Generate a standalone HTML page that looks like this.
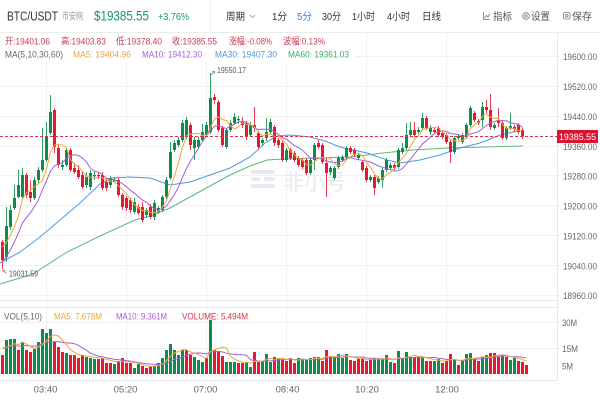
<!DOCTYPE html>
<html><head><meta charset="utf-8">
<style>
html,body{margin:0;padding:0;background:#fff;}
svg{display:block;font-family:"Liberation Sans","Noto Sans CJK SC",sans-serif;}
</style></head><body>
<svg id="s" width="600" height="400" viewBox="0 0 600 400" xmlns="http://www.w3.org/2000/svg">
<rect width="600" height="400" fill="#fff"/>
<!-- header -->
<line x1="0" y1="32.5" x2="600" y2="32.5" stroke="#ececec"/>
<line x1="210.5" y1="0" x2="210.5" y2="32" stroke="#ececec"/>
<text x="7" y="20.5" font-size="12.5" fill="#333" textLength="51" lengthAdjust="spacingAndGlyphs">BTC/USDT</text>
<text x="62" y="19.5" font-size="9.5" fill="#999" textLength="21" lengthAdjust="spacingAndGlyphs">币安网</text>
<text x="94" y="20.5" font-size="14" fill="#119a5c" textLength="55" lengthAdjust="spacingAndGlyphs">$19385.55</text>
<text x="158" y="20" font-size="10.5" fill="#119a5c" textLength="31" lengthAdjust="spacingAndGlyphs">+3.76%</text>
<g font-size="10" fill="#333">
<text x="226" y="20" textLength="19" lengthAdjust="spacingAndGlyphs">周期</text>
<text x="272" y="20" textLength="15" lengthAdjust="spacingAndGlyphs">1分</text>
<text x="297" y="20" fill="#3b7fd8" textLength="15" lengthAdjust="spacingAndGlyphs">5分</text>
<text x="322" y="20" textLength="19" lengthAdjust="spacingAndGlyphs">30分</text>
<text x="352" y="20" textLength="23" lengthAdjust="spacingAndGlyphs">1小时</text>
<text x="387" y="20" textLength="23" lengthAdjust="spacingAndGlyphs">4小时</text>
<text x="422" y="20" textLength="19" lengthAdjust="spacingAndGlyphs">日线</text>
<text x="493" y="20" fill="#555" textLength="19" lengthAdjust="spacingAndGlyphs">指标</text>
<text x="531" y="20" fill="#555" textLength="19" lengthAdjust="spacingAndGlyphs">设置</text>
<text x="572" y="20" fill="#555" textLength="20" lengthAdjust="spacingAndGlyphs">保存</text>
</g>
<path d="M250 15 L252.5 17.5 L255 15" fill="none" stroke="#aaa" stroke-width="0.9"/>
<path d="M483.5 12 V19.5 H490 M484.5 18 L486.5 15.5 L488 17 L490 14" fill="none" stroke="#777" stroke-width="0.8"/>
<circle cx="526" cy="16" r="3.3" fill="none" stroke="#777" stroke-width="0.8"/>
<circle cx="526" cy="16" r="1.2" fill="none" stroke="#777" stroke-width="0.8"/>
<rect x="563.5" y="12.5" width="6.5" height="6.5" rx="1.5" fill="none" stroke="#777" stroke-width="0.8"/>
<circle cx="566.75" cy="15.75" r="1.3" fill="none" stroke="#777" stroke-width="0.8"/>

<!-- grid -->
<g stroke="#f0f0f0" stroke-width="1">
<line x1="0" y1="56.5" x2="560" y2="56.5"/>
<line x1="0" y1="86.5" x2="560" y2="86.5"/>
<line x1="0" y1="116.5" x2="560" y2="116.5"/>
<line x1="0" y1="146.5" x2="560" y2="146.5"/>
<line x1="0" y1="175.5" x2="560" y2="175.5"/>
<line x1="0" y1="205.5" x2="560" y2="205.5"/>
<line x1="0" y1="235.5" x2="560" y2="235.5"/>
<line x1="0" y1="265.5" x2="560" y2="265.5"/>
<line x1="0" y1="295.5" x2="560" y2="295.5"/>
<line x1="0" y1="322.5" x2="560" y2="322.5"/>
<line x1="0" y1="348.5" x2="560" y2="348.5"/>
<line x1="46.5" y1="33" x2="46.5" y2="380"/>
<line x1="126.5" y1="33" x2="126.5" y2="380"/>
<line x1="206.5" y1="33" x2="206.5" y2="380"/>
<line x1="286.5" y1="33" x2="286.5" y2="380"/>
<line x1="366.5" y1="33" x2="366.5" y2="380"/>
<line x1="446.5" y1="33" x2="446.5" y2="380"/>
</g>
<g stroke="#e8e8e8" stroke-width="1">
<line x1="0" y1="300.5" x2="557" y2="300.5"/>
<line x1="0" y1="307.5" x2="557" y2="307.5"/>
<line x1="0" y1="380.5" x2="557" y2="380.5"/>
<line x1="557.5" y1="33" x2="557.5" y2="380"/>
</g>
<rect x="0" y="33" width="356" height="29" fill="#fff"/>

<!-- watermark -->
<g fill="#e7ebf1">
<rect x="251" y="170" width="24" height="4" rx="2"/>
<rect x="251" y="177" width="9" height="4" rx="2"/>
<rect x="264" y="177" width="11" height="4" rx="2"/>
<rect x="251" y="184" width="24" height="4" rx="2"/>
<text x="283" y="190" font-size="22" textLength="63" lengthAdjust="spacingAndGlyphs">非小号</text>
</g>

<!-- info rows -->
<g font-size="9.5" fill="#cc3b52">
<text x="5" y="44.5" textLength="45" lengthAdjust="spacingAndGlyphs">开:19401.06</text>
<text x="61" y="44.5" textLength="45" lengthAdjust="spacingAndGlyphs">高:19403.83</text>
<text x="116" y="44.5" textLength="46" lengthAdjust="spacingAndGlyphs">低:19378.40</text>
<text x="172" y="44.5" textLength="45" lengthAdjust="spacingAndGlyphs">收:19385.55</text>
<text x="229" y="44.5" textLength="43" lengthAdjust="spacingAndGlyphs">涨幅:-0.08%</text>
<text x="283" y="44.5" textLength="42" lengthAdjust="spacingAndGlyphs">波幅:0.13%</text>
</g>
<g font-size="9.5">
<text x="5" y="57.5" fill="#666" textLength="58" lengthAdjust="spacingAndGlyphs">MA(5,10,30,60)</text>
<text x="73" y="57.5" fill="#f2a33a" textLength="58" lengthAdjust="spacingAndGlyphs">MA5: 19404.96</text>
<text x="142" y="57.5" fill="#a35fd6" textLength="60" lengthAdjust="spacingAndGlyphs">MA10: 19412.30</text>
<text x="215" y="57.5" fill="#4a97e0" textLength="62" lengthAdjust="spacingAndGlyphs">MA30: 19407.30</text>
<text x="288" y="57.5" fill="#3ea96b" textLength="61" lengthAdjust="spacingAndGlyphs">MA60: 19361.03</text>
</g>

<g id="dyn"></g>

<!-- price axis labels -->
<g font-size="9.5" fill="#666">
<text x="563" y="60" textLength="34" lengthAdjust="spacingAndGlyphs">19600.00</text>
<text x="563" y="90" textLength="34" lengthAdjust="spacingAndGlyphs">19520.00</text>
<text x="563" y="120" textLength="34" lengthAdjust="spacingAndGlyphs">19440.00</text>
<text x="563" y="150" textLength="34" lengthAdjust="spacingAndGlyphs">19360.00</text>
<text x="563" y="179.5" textLength="34" lengthAdjust="spacingAndGlyphs">19280.00</text>
<text x="563" y="209.5" textLength="34" lengthAdjust="spacingAndGlyphs">19200.00</text>
<text x="563" y="239.5" textLength="34" lengthAdjust="spacingAndGlyphs">19120.00</text>
<text x="563" y="269.5" textLength="34" lengthAdjust="spacingAndGlyphs">19040.00</text>
<text x="563" y="299" textLength="34" lengthAdjust="spacingAndGlyphs">18960.00</text>
<text x="562" y="326" textLength="15" lengthAdjust="spacingAndGlyphs">30M</text>
<text x="562" y="352" textLength="16" lengthAdjust="spacingAndGlyphs">15M</text>
<text x="562" y="369.5" textLength="11" lengthAdjust="spacingAndGlyphs">5M</text>
</g>
<!-- time labels -->
<g font-size="9.5" fill="#666" text-anchor="middle">
<text x="45.5" y="392.5">03:40</text>
<text x="125.5" y="392.5">05:20</text>
<text x="205.5" y="392.5">07:00</text>
<text x="287.5" y="392.5">08:40</text>
<text x="367" y="392.5">10:20</text>
<text x="447" y="392.5">12:00</text>
</g>

<!-- current price -->
<line x1="0" y1="136.5" x2="557" y2="136.5" stroke="#d6344b" stroke-width="1" stroke-dasharray="3,2"/>
<rect x="557" y="130" width="41" height="13" fill="#d9132e"/>
<text x="577.5" y="140" font-size="9.5" fill="#fff" text-anchor="middle" textLength="37" lengthAdjust="spacingAndGlyphs">19385.55</text>

<!-- max/min labels -->
<path d="M211 75 L214.5 71.5 M212.2 71.5 H214.5 V73.8" fill="none" stroke="#777" stroke-width="0.7"/>
<text x="217" y="73" font-size="8.5" fill="#555" textLength="29" lengthAdjust="spacingAndGlyphs">19550.17</text>
<path d="M3 270 L6.5 273.5 M3 272.3 V270 H5.3" fill="none" stroke="#777" stroke-width="0.7"/>
<text x="9" y="276.5" font-size="8.5" fill="#555" textLength="29" lengthAdjust="spacingAndGlyphs">19031.59</text>

<!-- volume labels -->
<g font-size="9.5">
<text x="4" y="319.5" fill="#666" textLength="38" lengthAdjust="spacingAndGlyphs">VOL(5,10)</text>
<text x="54" y="319.5" fill="#f2a33a" textLength="48" lengthAdjust="spacingAndGlyphs">MA5: 7.678M</text>
<text x="116" y="319.5" fill="#a35fd6" textLength="51" lengthAdjust="spacingAndGlyphs">MA10: 9.361M</text>
<text x="182" y="319.5" fill="#d4344c" textLength="66" lengthAdjust="spacingAndGlyphs">VOLUME: 5.494M</text>
</g>
</svg>
<script>
(function(){
var G="#0d8c4c",R="#e51a31";
var C=[[242,260,240,269],[257,226,207,262],[227,210,205,230],[208,198,185,210],[197,185,170,198],[197,175,168,200],[175,195,173,198],[192,198,180,202],[198,180,177,200],[180,170,167,183],
[170,160,128,172],[160,137,122,162],[133,112,95,135],[110,147,108,153],[148,165,145,168],[167,165,160,170],[165,150,148,167],[150,170,148,172],[168,172,163,174],[170,177,165,179],
[175,187,172,189],[185,177,172,188],[187,173,170,190],[176,175,171,180],[175,176,172,179],[175,188,172,190],[182,188,178,191],[185,178,176,188],[180,180,177,183],[180,195,178,197],
[195,207,193,210],[198,208,196,211],[200,210,198,213],[212,202,198,214],[207,213,204,215],[207,220,202,222],[215,210,208,218],[207,217,204,219],[217,203,200,220],[212,208,206,214],
[210,197,195,212],[197,180,177,199],[178,152,142,180],[150,143,140,152],[145,140,137,147],[140,123,120,142],[137,120,117,139],[125,145,123,150],[148,140,137,160],[147,140,137,149],
[140,132,124,142],[135,125,122,137],[132,98,73,134],[97,100,94,104],[102,130,100,132],[128,145,126,147],[147,130,128,149],[130,123,120,132],[123,117,113,125],[120,119,116,124],
[122,125,117,128],[123,137,121,140],[135,125,122,137],[125,128,107,132],[133,147,131,149],[143,140,138,146],[138,132,118,141],[132,122,119,134],[127,143,125,146],[140,145,138,148],
[143,160,141,162],[160,150,148,162],[150,158,148,160],[153,160,151,162],[158,165,156,167],[160,167,158,169],[160,173,158,175],[173,160,158,175],[160,145,143,170],[143,147,140,149],
[145,162,143,164],[163,173,157,197],[172,168,166,175],[178,168,166,180],[167,158,156,169],[160,157,155,162],[157,148,146,159],[148,152,146,154],[150,155,148,157],[158,155,153,160],
[162,170,160,172],[168,180,166,182],[180,177,175,182],[177,188,175,195],[182,178,176,184],[180,170,168,188],[170,160,158,172],[168,165,163,170],[165,168,163,170],[167,150,148,169],
[152,148,143,154],[148,135,123,150],[135,130,122,137],[130,135,122,137],[132,130,127,134],[128,118,113,130],[118,128,116,130],[132,128,125,135],[130,132,128,134],[128,135,126,137],
[133,137,131,139],[135,142,133,144],[142,152,140,163],[152,138,136,154],[138,136,134,140],[142,135,133,144],[137,125,123,139],[125,108,106,127],[113,120,111,122],[121,123,119,125],
[120,107,102,127],[107,110,100,113],[110,127,94,130],[128,125,123,130],[120,123,108,127],[123,138,121,140],[138,128,126,140],[128,126,113,130],[127,129,125,132],[125,132,123,134],
[130,136.5,128,139]];
var VT="r355 g340 g339 g339 r350 g342 r350 r352 g349 g342 g329 g333 g329 r342 r347 r352 g353 r355 r355 r358 r355 g357 g358 g359 r359 r358 r363 r363 g364 r361 r358 r363 r363 g368 g364 r366 r368 r366 g366 g363 g358 g350 g344 g350 g355 g350 r350 r355 g357 g360 g362 r358 g320 r350 r352 r356 g362 g362 g362 r363 r363 g362 g367 r352 r362 g362 g354 g362 r357 g358 r360 r361 r358 r363 g358 g359 g360 g358 g357 g357 r361 r350 r357 g358 g354 g358 g354 r360 r361 r359 r358 r361 r359 g358 g359 g359 g355 g362 r363 g351 g359 g352 g357 r357 r357 g358 r361 r361 g361 g359 r363 r361 r354 g360 r365 g361 g354 g353 r359 r361 g357 g355 r353 r353 r357 g356 r357 g360 g358 r361 r362 r365".split(" ");
var s="";
function X(i){return 2+4*i;}
// MA30 / MA60 manual
var ma30=[[0,263],[20,252],[40,237],[60,220],[80,203],[100,184],[112,178],[130,177],[150,178],[170,185],[190,182],[210,175],[230,168],[250,157],[265,143],[277,136],[290,135],[310,137],[325,141],[340,147],[367,153],[387,160],[400,163],[420,160],[440,155],[460,148],[480,143],[500,135],[522,130]];
var ma60=[[0,284],[33,274],[67,252],[100,236],[135,220],[150,216],[170,208],[190,197],[210,186],[230,175],[250,166],[267,160],[283,159],[317,158],[350,157],[383,153],[413,150],[447,148],[523,146]];
function pl(pts,col){return '<polyline fill="none" stroke="'+col+'" stroke-width="1" points="'+pts.map(function(p){return p[0]+","+p[1];}).join(" ")+'"/>';}
s+=pl(ma60,"#5cb97e");
s+=pl(ma30,"#4d9ae3");
// candles
for(var i=0;i<C.length;i++){
 var d=C[i],o=d[0],c=d[1],h=d[2],l=d[3];
 var col=(c<=o)?G:R; var x=X(i);
 s+='<rect x="'+x+'" y="'+h+'" width="1" height="'+(l-h)+'" fill="'+col+'" opacity="0.85"/>';
 var t=Math.min(o,c),bh=Math.max(1.2,Math.abs(o-c));
 s+='<rect x="'+(x-1)+'" y="'+t+'" width="3" height="'+bh+'" fill="'+col+'"/>';
}
// MA5/MA10 on closes
var pad=[280,279,277,275,274,250,245,242,238];
var cl=pad.concat(C.map(function(d){return d[1];}));
function ma(arr,n,off){var out=[];for(var i=0;i<C.length;i++){var k=i+off,sm=0;for(var j=0;j<n;j++)sm+=arr[k-j];out.push([X(i)+0.5,(sm/n).toFixed(1)]);}return out;}
s+=pl(ma(cl,10,9),"#a35fd6");
s+=pl(ma(cl,5,9),"#f3a53c");
// volume
var hs=[];
for(var i=0;i<VT.length;i++){
 var col=VT[i][0]=="g"?G:R; var top=+VT[i].slice(1); hs.push(374-top);
 s+='<rect x="'+(X(i)-1)+'" y="'+top+'" width="3" height="'+(374-top)+'" fill="'+col+'"/>';
}
var vp=[26,27,28,27,26,25,26,27,28];
var va=vp.concat(hs);
function vma(n){var out=[];for(var i=0;i<hs.length;i++){var k=i+9,sm=0;for(var j=0;j<n;j++)sm+=va[k-j];out.push([X(i)+0.5,(374-sm/n).toFixed(1)]);}return out;}
s+=pl(vma(10),"#a35fd6");
s+=pl(vma(5),"#f3a53c");
document.getElementById("dyn").innerHTML=s;
})();
</script>
</body></html>
